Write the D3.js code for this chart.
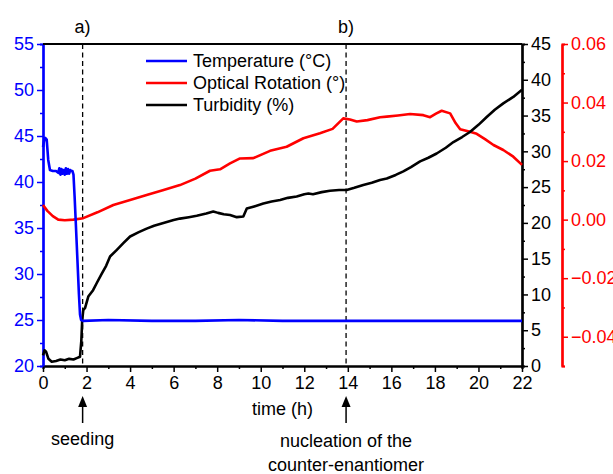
<!DOCTYPE html>
<html>
<head>
<meta charset="utf-8">
<script src="https://cdn.jsdelivr.net/npm/d3@7"></script>
<style>
body { margin: 0; background: #fff; }
text { font-family: Arial, "Liberation Sans", sans-serif; }
</style>
</head>
<body>
<div id="chart"></div>
<script>
// temperature (left axis, °C)
var tempTime = [0, 0.05, 0.1, 0.17, 0.24, 0.32, 0.45, 0.6, 0.7, 0.75, 0.8, 0.85, 0.9, 0.95, 1.0, 1.05, 1.1, 1.15, 1.2, 1.25, 1.3, 1.35, 1.4, 1.45, 1.5, 1.55, 1.6, 1.65, 1.7, 1.75, 1.85, 3, 5, 7, 9, 11, 13, 15, 17, 19, 21, 22];
var tempVal = [43.8, 44.5, 44.8, 44.6, 42.4, 41.3, 41.2, 41.2, 41.0, 41.5, 40.8, 41.4, 40.9, 41.3, 40.8, 41.5, 40.9, 41.4, 40.9, 41.3, 41.2, 41.2, 40.8, 38.5, 35.9, 33.2, 30.5, 27.8, 25.6, 25.0, 24.9, 25.0, 24.9, 24.9, 25.0, 24.9, 24.9, 24.9, 24.9, 24.9, 24.9, 24.9];

// turbidity (right black axis, %)
var turbTime = [0, 0.07, 0.14, 0.25, 0.4, 0.6, 0.8, 1.0, 1.2, 1.4, 1.55, 1.7, 1.76, 1.8, 1.85, 1.93, 2.08, 2.3, 2.47, 2.7, 2.9, 3.08, 3.38, 3.7, 4.0, 4.4, 4.76, 5.1, 5.53, 6.0, 6.29, 6.7, 7.06, 7.5, 7.82, 8.04, 8.3, 8.59, 8.9, 9.2, 9.36, 9.7, 10.12, 10.5, 10.89, 11.25, 11.65, 12.0, 12.19, 12.4, 12.8, 13.18, 13.6, 13.95, 14.3, 14.71, 15.1, 15.48, 15.79, 16.2, 16.55, 16.9, 17.32, 17.7, 18.08, 18.5, 18.85, 19.25, 19.61, 20.0, 20.38, 20.75, 21.14, 21.6, 22];
var turbVal = [1.5, 2.2, 2.0, 1.0, 0.6, 0.7, 0.9, 0.8, 1.0, 0.9, 1.1, 1.3, 3.5, 6.4, 7.8, 8.1, 9.7, 10.6, 11.6, 12.9, 14.0, 15.3, 16.2, 17.2, 18.1, 18.7, 19.2, 19.6, 20.0, 20.4, 20.6, 20.8, 21.0, 21.3, 21.6, 21.4, 21.2, 21.1, 20.8, 20.9, 22.0, 22.3, 22.7, 23.0, 23.2, 23.5, 23.7, 24.0, 24.1, 24.0, 24.3, 24.5, 24.6, 24.6, 24.9, 25.3, 25.6, 26.0, 26.2, 26.7, 27.2, 27.8, 28.6, 29.1, 29.7, 30.5, 31.3, 32.0, 32.7, 33.7, 34.8, 35.8, 36.7, 37.6, 38.6];

// optical rotation (right red axis, °)
var orTime = [0, 0.2, 0.45, 0.7, 1.0, 1.4, 1.85, 2.5, 3.23, 4.0, 4.76, 5.5, 6.29, 7.0, 7.67, 8.13, 8.59, 9.05, 9.66, 10.43, 11.19, 11.96, 12.72, 13.3, 13.79, 14.1, 14.41, 14.9, 15.48, 15.79, 16.3, 16.86, 17.47, 17.78, 18.05, 18.31, 18.7, 18.95, 19.16, 19.61, 19.92, 20.3, 20.69, 21.14, 21.6, 22];
var orVal = [0.0050, 0.0030, 0.0012, 0.0, -0.0002, 0.0, 0.0005, 0.0025, 0.005, 0.0067, 0.0084, 0.010, 0.0118, 0.014, 0.0167, 0.0172, 0.0192, 0.0209, 0.0210, 0.0235, 0.0249, 0.0278, 0.0295, 0.031, 0.0346, 0.0342, 0.0335, 0.0340, 0.035, 0.0352, 0.0356, 0.0361, 0.0357, 0.035, 0.0362, 0.0372, 0.0363, 0.033, 0.0309, 0.030, 0.0293, 0.0275, 0.0255, 0.0238, 0.0215, 0.0187];

var xTicks = [0, 2, 4, 6, 8, 10, 12, 14, 16, 18, 20, 22];
var tempTicks = [20, 25, 30, 35, 40, 45, 50, 55];
var turbTicks = [0, 5, 10, 15, 20, 25, 30, 35, 40, 45];
var orTicks = [-0.04, -0.02, 0.00, 0.02, 0.04, 0.06];
var seriesNames = ["Temperature (°C)", "Optical Rotation (°)", "Turbidity (%)"];
var seriesColors = ["#0000ff", "#ff0000", "#000000"];
var events = [1.82, 13.92];
var eventLabels = ["a)", "b)"];

var W = 613, H = 474;
var pLeft = 43, pRight = 522, pTop = 44, pBottom = 366;
var redAxisX = 562;

var svg = d3.select("#chart").append("svg")
    .attr("width", W)
    .attr("height", H);

var x = d3.scaleLinear().domain([0, 22]).range([pLeft, pRight]);
var yT = d3.scaleLinear().domain([20, 55]).range([pBottom, pTop]);
var yB = d3.scaleLinear().domain([0, 45]).range([pBottom, pTop]);
var yR = d3.scaleLinear().domain([-0.05, 0.06]).range([pBottom, pTop]);

function styleAxis(g, color) {
    g.select(".domain").attr("stroke", color).attr("stroke-width", 2.2);
    g.selectAll(".tick line").attr("stroke", color).attr("stroke-width", 1.5);
    g.selectAll(".tick text").attr("fill", color).attr("font-size", "18px")
        .attr("font-family", "Arial, 'Liberation Sans', sans-serif");
}

// minor ticks first
svg.append("g").attr("transform", "translate(0," + pBottom + ")")
    .call(d3.axisBottom(x).tickValues(d3.range(1, 22, 2)).tickSize(3).tickFormat(""))
    .call(function(g) { styleAxis(g, "#000"); });
svg.append("g").attr("transform", "translate(" + pLeft + ",0)")
    .call(d3.axisLeft(yT).tickValues(d3.range(22.5, 55, 5)).tickSize(3).tickFormat(""))
    .call(function(g) { styleAxis(g, "#0000ff"); });
svg.append("g").attr("transform", "translate(" + pRight + ",0)")
    .call(d3.axisRight(yB).tickValues(d3.range(2.5, 45, 5)).tickSize(3).tickFormat(""))
    .call(function(g) { styleAxis(g, "#000"); });
svg.append("g").attr("transform", "translate(" + redAxisX + ",0)")
    .call(d3.axisRight(yR).tickValues([-0.05, -0.03, -0.01, 0.01, 0.03, 0.05]).tickSize(3).tickFormat(""))
    .call(function(g) { styleAxis(g, "#ff0000"); });

// major axes
svg.append("g").attr("transform", "translate(0," + pBottom + ")")
    .call(d3.axisBottom(x).tickValues(xTicks).tickSize(6).tickPadding(4).tickSizeOuter(0))
    .call(function(g) { styleAxis(g, "#000"); });
svg.append("g").attr("transform", "translate(" + pLeft + ",0)")
    .call(d3.axisLeft(yT).tickValues(tempTicks).tickSize(6).tickPadding(3).tickSizeOuter(0))
    .call(function(g) { styleAxis(g, "#0000ff"); });
svg.append("g").attr("transform", "translate(" + pRight + ",0)")
    .call(d3.axisRight(yB).tickValues(turbTicks).tickSize(6).tickPadding(3).tickSizeOuter(0))
    .call(function(g) { styleAxis(g, "#000"); });
svg.append("g").attr("transform", "translate(" + redAxisX + ",0)")
    .call(d3.axisRight(yR).tickValues(orTicks).tickSize(6).tickPadding(3).tickSizeOuter(0)
        .tickFormat(d3.format(".2f")))
    .call(function(g) { styleAxis(g, "#ff0000"); });

// top frame line
svg.append("line")
    .attr("x1", pLeft).attr("x2", pRight)
    .attr("y1", pTop).attr("y2", pTop)
    .attr("stroke", "#000").attr("stroke-width", 2);

// dashed event lines
svg.selectAll(".event")
    .data(events)
    .enter()
    .append("line")
    .attr("x1", function(d) { return x(d); })
    .attr("x2", function(d) { return x(d); })
    .attr("y1", pTop)
    .attr("y2", pBottom)
    .attr("stroke", "#000")
    .attr("stroke-width", 1.3)
    .attr("stroke-dasharray", "5,3.5");

svg.selectAll(".eventLabel")
    .data(events)
    .enter()
    .append("text")
    .attr("x", function(d) { return x(d); })
    .attr("y", 33)
    .attr("text-anchor", "middle")
    .attr("font-size", "18px")
    .text(function(d, i) { return eventLabels[i]; });

// data lines
function drawLine(tArr, vArr, yScale, color) {
    var pts = tArr.map(function(t, i) { return [t, vArr[i]]; });
    var line = d3.line()
        .x(function(d) { return x(d[0]); })
        .y(function(d) { return yScale(d[1]); });
    svg.append("path")
        .datum(pts)
        .attr("d", line)
        .attr("fill", "none")
        .attr("stroke", color)
        .attr("stroke-width", 2.6)
        .attr("stroke-linejoin", "round");
}
drawLine(orTime, orVal, yR, "#ff0000");
drawLine(turbTime, turbVal, yB, "#000000");
drawLine(tempTime, tempVal, yT, "#0000ff");

// legend
var legendY = [61, 83, 105];
var lg = svg.selectAll(".legend")
    .data(seriesNames)
    .enter()
    .append("g");
lg.append("line")
    .attr("x1", 146).attr("x2", 187)
    .attr("y1", function(d, i) { return legendY[i]; })
    .attr("y2", function(d, i) { return legendY[i]; })
    .attr("stroke", function(d, i) { return seriesColors[i]; })
    .attr("stroke-width", 2.6);
lg.append("text")
    .attr("x", 193)
    .attr("y", function(d, i) { return legendY[i] + 6; })
    .attr("font-size", "18px")
    .text(function(d) { return d; });

// x axis title
svg.append("text")
    .attr("x", (pLeft + pRight) / 2)
    .attr("y", 415)
    .attr("text-anchor", "middle")
    .attr("font-size", "18px")
    .text("time (h)");

// arrows
svg.selectAll(".arrow")
    .data(events)
    .enter()
    .append("line")
    .attr("x1", function(d) { return x(d); })
    .attr("x2", function(d) { return x(d); })
    .attr("y1", 423)
    .attr("y2", 404)
    .attr("stroke", "#000")
    .attr("stroke-width", 1.5);
svg.selectAll(".head")
    .data(events)
    .enter()
    .append("path")
    .attr("d", function(d) {
        var cx = x(d);
        return "M" + (cx - 4.5) + ",407 L" + cx + ",396 L" + (cx + 4.5) + ",407 Z";
    })
    .attr("fill", "#000");

svg.append("text")
    .attr("x", x(events[0]))
    .attr("y", 445)
    .attr("text-anchor", "middle")
    .attr("font-size", "18px")
    .text("seeding");

svg.append("text")
    .attr("x", x(events[1]))
    .attr("y", 447)
    .attr("text-anchor", "middle")
    .attr("font-size", "18px")
    .text("nucleation of the");
svg.append("text")
    .attr("x", x(events[1]))
    .attr("y", 471)
    .attr("text-anchor", "middle")
    .attr("font-size", "18px")
    .text("counter-enantiomer");
</script>
</body>
</html>
